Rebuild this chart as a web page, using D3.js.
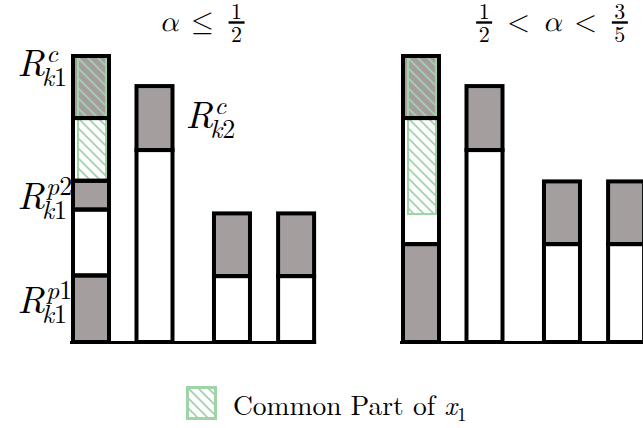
<!DOCTYPE html>
<html>
<head>
<meta charset="utf-8">
<script src="https://cdn.jsdelivr.net/npm/d3@7"></script>
<style>
  body { margin: 0; background: #fff; }
</style>
</head>
<body>
<svg id="chart"></svg>
<script>
// bar positions along the x axis (two close pairs)
const bars = ["k1", "k2", "k3", "k4"];
const barSlots = [0, 1, 2.22, 3.23];

// stacked segments, bottom to top. r = reserved (grey), f = free (white)
const leftValues = [[1.04, 1.03, 0.45, 0.98, 0.97], [3.0, 1.0], [1.03, 0.98], [1.03, 0.98]];
const leftKinds  = [["r", "f", "r", "f", "r"], ["f", "r"], ["f", "r"], ["f", "r"]];
const rightValues = [[1.53, 1.97, 0.97], [3.0, 1.0], [1.53, 0.98], [1.53, 0.98]];
const rightKinds  = [["r", "f", "r"], ["f", "r"], ["f", "r"], ["f", "r"]];

// common part of x1 on the first bar: [from, to]
const leftCommon = [2.52, 4.47];
const rightCommon = [2.0, 4.47];

// panel titles, tokens with "/" are fractions
const leftTitle = ["α", "≤", "1/2"];
const rightTitle = ["1/2", "<", "α", "<", "3/5"];

// annotations R^sup_sub, on the left panel only
const labelSup = ["c", "p2", "p1", "c"];
const labelSub = ["k1", "k1", "k1", "k2"];
const labelBar = [0, 0, 0, 1];
const labelAt  = [4.16, 2.08, 0.45, 3.34];

const W = 643, H = 428;
const grey = "#a59e9e", green = "#9fd4a9";
const roman = '"Latin Modern Roman", "Liberation Serif", serif';
const math = '"Latin Modern Math", "Latin Modern Roman", "Liberation Serif", serif';

const svg = d3.select("#chart").attr("width", W).attr("height", H);

const defs = svg.append("defs");
defs.append("pattern")
    .attr("id", "hatch")
    .attr("patternUnits", "userSpaceOnUse")
    .attr("width", 10).attr("height", 10)
  .append("path")
    .attr("d", "M0,0L10,10M-5,5L5,15M5,-5L15,5")
    .attr("stroke", green)
    .attr("stroke-width", 1.8);

const yscale = d3.scaleLinear()
    .domain([0, 4.47])
    .range([342, 56]);

const bw = 36;

// write a piece of math into a text/tspan; italic letters, upright digits
function mathText(sel, str) {
  for (const ch of str) {
    const t = sel.append("tspan").text(ch);
    if (/[a-z]/i.test(ch)) t.style("font-family", roman).style("font-style", "italic");
    else if (ch === "α") t.style("font-family", math).style("font-style", "italic");
    else if (/[0-9]/.test(ch)) t.style("font-family", roman);
    else t.style("font-family", math);
  }
  return sel;
}

function drawTitle(g, tokens, cx) {
  const t = g.append("g");
  let x = 0;
  tokens.forEach((tok, i) => {
    if (i > 0) x += 13;
    if (tok.includes("/")) {
      const [num, den] = tok.split("/");
      x += 2;
      const f = t.append("text")
          .attr("text-anchor", "middle").attr("font-size", 22)
          .style("font-family", roman);
      f.append("tspan").attr("x", x + 8).attr("y", 19).text(num);
      f.append("tspan").attr("x", x + 8).attr("y", 42).text(den);
      t.append("line").attr("x1", x).attr("x2", x + 16)
          .attr("y1", 22.5).attr("y2", 22.5)
          .attr("stroke", "#000").attr("stroke-width", 2.4);
      x += 16 + 2;
    } else {
      const s = t.append("text").attr("x", x).attr("y", 31).attr("font-size", 29);
      mathText(s, tok);
      x += s.node().getComputedTextLength();
    }
  });
  t.attr("transform", `translate(${cx - x / 2},0)`);
}

function drawPanel(cfg) {
  const off = cfg.offset;
  const g = svg.append("g");

  const xscale = d3.scaleLinear()
      .domain([0, 1])
      .range([91 + off, 154.5 + off]);

  const segs = cfg.values.map((vals, i) => {
    let acc = 0;
    return vals.map((v, j) => {
      const s = {bar: i, y0: acc, y1: acc + v, kind: cfg.kinds[i][j]};
      acc += v;
      return s;
    });
  }).flat();

  const bx = d => xscale(barSlots[d.bar]) - bw / 2;

  g.append("g").selectAll("rect")
    .data(segs)
    .join("rect")
      .attr("x", bx)
      .attr("y", d => yscale(d.y1))
      .attr("width", bw)
      .attr("height", d => yscale(d.y0) - yscale(d.y1))
      .attr("fill", d => d.kind === "r" ? grey : "#fff");

  // hatched common part on first bar
  g.append("rect")
      .attr("x", xscale(barSlots[0]) - 13)
      .attr("y", yscale(cfg.common[1]))
      .attr("width", 28)
      .attr("height", yscale(cfg.common[0]) - yscale(cfg.common[1]))
      .attr("fill", "url(#hatch)")
      .attr("stroke", green)
      .attr("stroke-width", 2);

  g.append("g").selectAll("rect")
    .data(segs)
    .join("rect")
      .attr("x", bx)
      .attr("y", d => yscale(d.y1))
      .attr("width", bw)
      .attr("height", d => yscale(d.y0) - yscale(d.y1))
      .attr("fill", "none")
      .attr("stroke", "#000")
      .attr("stroke-width", 4);

  // base line
  g.append("line")
      .attr("x1", xscale(barSlots[0]) - bw / 2 - 3)
      .attr("x2", xscale(barSlots[3]) + bw / 2 + 2)
      .attr("y1", yscale(0) + 0.5).attr("y2", yscale(0) + 0.5)
      .attr("stroke", "#000")
      .attr("stroke-width", 3);

  drawTitle(g, cfg.title, cfg.titleX);

  if (cfg.labels) {
    labelSup.forEach((sup, i) => {
      const b = labelBar[i];
      const y = yscale(labelAt[i]);
      const t = g.append("text").attr("y", y).attr("font-size", 38);
      mathText(t, "R");
      const wR = t.node().getComputedTextLength();
      mathText(t.append("tspan").attr("dx", 1).attr("dy", -14).attr("font-size", 26), sup);
      const sub = t.append("tspan").attr("dy", 24).attr("font-size", 26);
      mathText(sub, labelSub[i]);
      if (b === 0) {
        // right edge just left of the first bar
        const tmp = g.append("text").attr("font-size", 26);
        mathText(tmp, labelSub[i]);
        const wSub = tmp.node().getComputedTextLength();
        tmp.remove();
        const x0 = xscale(barSlots[b]) - bw / 2 - 6 - (wR - 3 + wSub);
        t.attr("x", x0);
        sub.attr("x", x0 + wR - 3);
      } else {
        const x0 = xscale(barSlots[b]) + bw / 2 + 13;
        t.attr("x", x0);
        sub.attr("x", x0 + wR - 3);
      }
    });
  }
}

drawPanel({offset: 0, values: leftValues, kinds: leftKinds, common: leftCommon,
           title: leftTitle, titleX: 203, labels: true});
drawPanel({offset: 330, values: rightValues, kinds: rightKinds, common: rightCommon,
           title: rightTitle, titleX: 552, labels: false});

// legend
const lg = svg.append("g");
lg.append("rect")
    .attr("x", 187.5).attr("y", 387.5)
    .attr("width", 28).attr("height", 31)
    .attr("fill", "url(#hatch)")
    .attr("stroke", green)
    .attr("stroke-width", 3);
const lt = lg.append("text")
    .attr("x", 233).attr("y", 415)
    .attr("font-size", 27.5)
    .style("font-family", roman);
lt.append("tspan").text("Common Part of ");
lt.append("tspan").style("font-style", "italic").text("x");
lt.append("tspan").attr("dy", 6).attr("font-size", 19.5).text("1");
</script>
</body>
</html>
